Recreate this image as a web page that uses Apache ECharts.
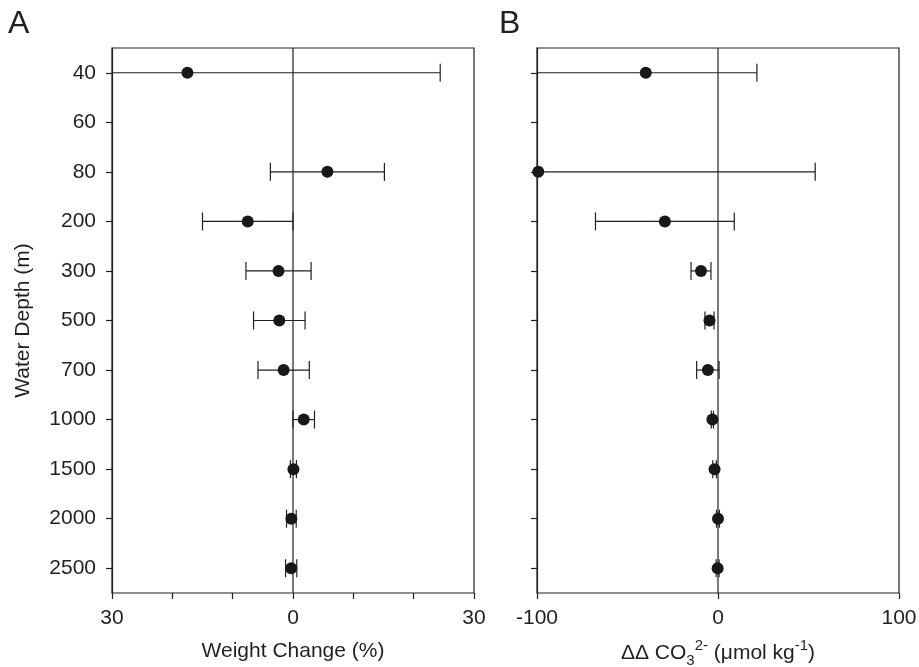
<!DOCTYPE html>
<html>
<head>
<meta charset="utf-8">
<script src="https://cdn.jsdelivr.net/npm/echarts@6/dist/echarts.min.js"></script>
<style>
html,body{margin:0;padding:0;background:#fff;}
#chart{width:919px;height:667px;}
</style>
</head>
<body>
<div id="chart"></div>
<script>
// ---- data ----
const depths = ['40','60','80','200','300','500','700','1000','1500','2000','2500'];
const weightMean = [-17.5, null, 5.7, -7.5, -2.4, -2.27, -1.55, 1.78, 0.07, -0.27, -0.3];
const weightErr  = [41.9, null, 9.45, 7.5, 5.4, 4.27, 4.25, 1.78, 0.5, 0.8, 0.93];
const co3Mean = [-39.9, null, -99.3, -29.35, -9.4, -4.7, -5.6, -3.1, -1.9, 0.0, -0.2];
const co3Err  = [61.4, null, 153, 38.35, 5.5, 2.5, 6.2, 0.6, 1.0, 0.8, 0.8];
const weightTickLabels = {'-30':'30', '0':'0', '30':'30'};
const co3TickLabels = {'-100':'-100', '0':'0', '100':'100'};
const zeroRef = [0];

const FONT = '"Liberation Sans", Arial, Helvetica, sans-serif';
const INK = '#231f20';
const FS = 21;

function pts(mean){ const o=[]; mean.forEach((m,i)=>{ if(m!==null) o.push([m,i]); }); return o; }
function bars(mean, err){ const o=[]; mean.forEach((m,i)=>{ if(m!==null) o.push([m-err[i], m+err[i], i]); }); return o; }

function errRender(params, api){
  const lo = api.value(0), hi = api.value(1), yi = api.value(2);
  const cs = params.coordSys;
  const a = api.coord([lo, yi]), b = api.coord([hi, yi]);
  const left = cs.x, right = cs.x + cs.width;
  const x1 = Math.max(a[0], left), x2 = Math.min(b[0], right);
  const y = a[1], h = 9;
  const st = {stroke: INK, lineWidth: 1.2};
  const children = [{type:'line', shape:{x1:x1, y1:y, x2:x2, y2:y}, style:st}];
  if (a[0] >= left - 0.5) children.push({type:'line', shape:{x1:a[0], y1:y-h, x2:a[0], y2:y+h}, style:st});
  if (b[0] <= right + 0.5) children.push({type:'line', shape:{x1:b[0], y1:y-h, x2:b[0], y2:y+h}, style:st});
  return {type:'group', children};
}
function zeroRender(params, api){
  const cs = params.coordSys;
  const p = api.coord([api.value(0), 0]);
  return {type:'line', shape:{x1:p[0], y1:cs.y, x2:p[0], y2:cs.y+cs.height},
          style:{stroke:'#333', lineWidth:1.3}};
}

const axisLineStyle = {onZero:false, lineStyle:{color:INK, width:1.2}};
const tickStyle = {show:true, length:6, inside:false, lineStyle:{color:INK, width:1.2}};

const chart = echarts.init(document.getElementById('chart'), null, {renderer:'canvas'});
chart.setOption({
  animation:false,
  backgroundColor:'#fff',
  textStyle:{fontFamily:FONT},
  graphic:[
    {type:'text', left:8, top:8, style:{text:'A', fontSize:32, fontFamily:FONT, fill:INK}},
    {type:'text', left:499, top:8, style:{text:'B', fontSize:32, fontFamily:FONT, fill:INK}}
  ],
  grid:[
    {left:112, top:48, width:362, height:545, show:true, borderColor:INK, borderWidth:1.2, containLabel:false, outerBoundsMode:'none'},
    {left:537, top:48, width:362, height:545, show:true, borderColor:INK, borderWidth:1.2, containLabel:false, outerBoundsMode:'none'}
  ],
  xAxis:[
    {gridIndex:0, type:'value', min:-30, max:30, interval:10,
     axisLine:axisLineStyle, axisTick:tickStyle, splitLine:{show:false},
     axisLabel:{color:INK, fontSize:FS, fontFamily:FONT, margin:15,
       formatter:v=> (weightTickLabels[String(v)] !== undefined ? weightTickLabels[String(v)] : '')},
     name:'Weight Change (%)', nameLocation:'middle', nameGap:48,
     nameTextStyle:{color:INK, fontSize:FS, fontFamily:FONT}},
    {gridIndex:1, type:'value', min:-100, max:100, interval:100,
     axisLine:axisLineStyle, axisTick:tickStyle, splitLine:{show:false},
     axisLabel:{color:INK, fontSize:FS, fontFamily:FONT, margin:15,
       formatter:v=> (co3TickLabels[String(v)] !== undefined ? co3TickLabels[String(v)] : '')},
     name:'{m|ΔΔ CO}{sub|3}{sup|2-}{m| (μmol kg}{sup|-1}{m|)}', nameLocation:'middle', nameGap:45,
     nameTextStyle:{color:INK, fontSize:FS, fontFamily:FONT,
       rich:{
         m:{fontSize:FS, fontFamily:FONT, color:INK, lineHeight:30, verticalAlign:'middle'},
         sub:{fontSize:15, fontFamily:FONT, color:INK, lineHeight:16, verticalAlign:'bottom'},
         sup:{fontSize:15, fontFamily:FONT, color:INK, lineHeight:27, verticalAlign:'top'}
       }}}
  ],
  yAxis:[
    {gridIndex:0, type:'category', data:depths, inverse:true, boundaryGap:true,
     axisLine:axisLineStyle, axisTick:Object.assign({alignWithLabel:true}, tickStyle), splitLine:{show:false},
     axisLabel:{color:INK, fontSize:FS, fontFamily:FONT, margin:16},
     name:'Water Depth (m)', nameLocation:'middle', nameGap:78, nameRotate:90,
     nameTextStyle:{color:INK, fontSize:FS, fontFamily:FONT}},
    {gridIndex:1, type:'category', data:depths, inverse:true, boundaryGap:true,
     axisLine:axisLineStyle, axisTick:Object.assign({alignWithLabel:true}, tickStyle), splitLine:{show:false},
     axisLabel:{show:false}}
  ],
  series:[
    {type:'custom', xAxisIndex:0, yAxisIndex:0, renderItem:zeroRender, data:zeroRef.map(v=>[v,0]),
     encode:{x:0, y:1}, z:2, silent:true},
    {type:'custom', xAxisIndex:0, yAxisIndex:0, renderItem:errRender, data:bars(weightMean, weightErr),
     encode:{x:[0,1], y:2}, z:3, silent:true},
    {type:'scatter', xAxisIndex:0, yAxisIndex:0, data:pts(weightMean), symbol:'circle', symbolSize:12,
     itemStyle:{color:'#1a1718', opacity:1}, z:4},
    {type:'custom', xAxisIndex:1, yAxisIndex:1, renderItem:zeroRender, data:zeroRef.map(v=>[v,0]),
     encode:{x:0, y:1}, z:2, silent:true},
    {type:'custom', xAxisIndex:1, yAxisIndex:1, renderItem:errRender, data:bars(co3Mean, co3Err),
     encode:{x:[0,1], y:2}, z:3, silent:true},
    {type:'scatter', xAxisIndex:1, yAxisIndex:1, data:pts(co3Mean), symbol:'circle', symbolSize:12,
     itemStyle:{color:'#1a1718', opacity:1}, z:4, clip:false}
  ]
});
</script>
</body>
</html>
